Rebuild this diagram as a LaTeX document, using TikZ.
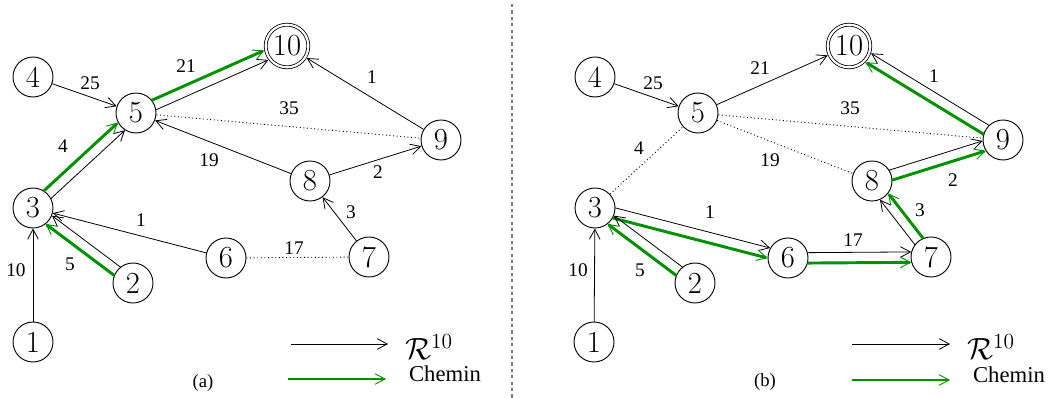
\RequirePackage{fix-cm}
\documentclass[tikz,border=0pt]{standalone}
\usepackage{fontspec}
\newfontfamily\lblfont{Liberation Serif}
\usetikzlibrary{arrows.meta,calc}
\definecolor{pathgreen}{RGB}{0,145,0}
\definecolor{divgray}{RGB}{125,125,125}
\tikzset{
  >={Straight Barb[length=7.5pt,width=8pt,line width=0.6pt]},
  vtx/.style={circle,draw,line width=0.7pt,minimum size=30pt,inner sep=0pt,
    font=\fontsize{23}{25}\selectfont},
  goal/.style={circle,draw,double,double distance=1.6pt,line width=0.6pt,
    minimum size=32pt,inner sep=0pt,outer sep=1.4pt,font=\fontsize{23}{25}\selectfont},
  blk/.style={->,line width=0.6pt},
  grn/.style={-{Straight Barb[length=7.5pt,width=8pt,line width=0.7pt]},
    draw=pathgreen,line width=2.2pt},
  dotedge/.style={line width=0.7pt,dotted,draw=black},
  lbl/.style={font=\lblfont\fontsize{14.5}{16}\selectfont,inner sep=0pt},
  chem/.style={font=\lblfont\fontsize{17}{19}\selectfont,inner sep=0pt},
  captxt/.style={font=\lblfont\fontsize{14}{16}\selectfont,inner sep=0pt},
  rten/.style={font=\fontsize{23}{26}\selectfont,inner sep=0pt},
  divider/.style={draw=divgray,line width=0.8pt,dash pattern=on 2.4pt off 2.4pt}
}
\newcommand\pairL[4]{%
  \draw[blk,shorten <=#3,shorten >=#4] ($(#1)!3.9pt!-90:(#2)$) -- ($(#2)!3.9pt!90:(#1)$);
  \draw[grn,shorten <=#3,shorten >=#4] ($(#1)!3.9pt!90:(#2)$) -- ($(#2)!3.9pt!-90:(#1)$);}
\newcommand\pairR[4]{%
  \draw[blk,shorten <=#3,shorten >=#4] ($(#1)!3.9pt!90:(#2)$) -- ($(#2)!3.9pt!-90:(#1)$);
  \draw[grn,shorten <=#3,shorten >=#4] ($(#1)!3.9pt!-90:(#2)$) -- ($(#2)!3.9pt!90:(#1)$);}
\begin{document}
\begin{tikzpicture}[x=0.75pt,y=-0.75pt]
\useasboundingbox (0,0) rectangle (1052,398);
\coordinate (divtop) at (512,4);
\coordinate (divbot) at (512,398);
\draw[divider] (divtop) -- (divbot);

% ---------------- panel (a)
\begin{scope}
\node[vtx] (a4) at (33,77) {4};
\node[vtx] (a5) at (136,113) {5};
\node[goal] (a10) at (287,46) {10};
\node[vtx] (a9) at (441,140) {9};
\node[vtx] (a8) at (310,181) {8};
\node[vtx] (a3) at (33,208) {3};
\node[vtx] (a6) at (226,258) {6};
\node[vtx] (a7) at (369,257) {7};
\node[vtx] (a2) at (133,283) {2};
\node[vtx] (a1) at (33,342) {1};

\draw[blk] (a4) -- (a5);
\pairL{a5}{a10}{14.5pt}{17pt}
\draw[blk] (a9) -- (a10);
\draw[dotedge] (a5) -- (a9);
\draw[blk] (a8) -- (a5);
\draw[blk] (a8) -- (a9);
\pairL{a3}{a5}{14.5pt}{14.8pt}
\draw[blk] (a6) -- (a3);
\pairL{a2}{a3}{14.5pt}{14.8pt}
\draw[blk] (a1) -- (a3);
\draw[dotedge] (a6) -- (a7);
\draw[blk] (a7) -- (a8);

\node[lbl] (la25) at (90,83) {25};
\node[lbl] (la21) at (186,66) {21};
\node[lbl] (la1t) at (372,77) {1};
\node[lbl] (la35) at (289,108) {35};
\node[lbl] (la4) at (63,146) {4};
\node[lbl] (la19) at (209,160) {19};
\node[lbl] (la2) at (378,172) {2};
\node[lbl] (la3) at (351,212) {3};
\node[lbl] (la1b) at (141,220) {1};
\node[lbl] (la17) at (294,248) {17};
\node[lbl] (la5) at (70,264) {5};
\node[lbl] (la10) at (16,270) {10};

\coordinate (ka1) at (291,344);
\coordinate (ka2) at (388,344);
\draw[blk] (ka1) -- (ka2);
\coordinate (ka3) at (288,379);
\coordinate (ka4) at (386,379);
\draw[grn] (ka3) -- (ka4);
\node[rten] (ra) at (429,347) {$\mathcal{R}^{10}$};
\node[chem] (ca) at (445,374) {Chemin};
\node[captxt] (capa) at (203,383) {(a)};
\end{scope}

% ---------------- panel (b)
\begin{scope}[xshift=421.5pt]
\node[vtx] (b4) at (33,77) {4};
\node[vtx] (b5) at (136,113) {5};
\node[goal] (b10) at (287,46) {10};
\node[vtx] (b9) at (441,140) {9};
\node[vtx] (b8) at (310,181) {8};
\node[vtx] (b3) at (33,208) {3};
\node[vtx] (b6) at (226,258) {6};
\node[vtx] (b7) at (369,257) {7};
\node[vtx] (b2) at (133,283) {2};
\node[vtx] (b1) at (32,342) {1};

\draw[blk] (b4) -- (b5);
\draw[blk] (b5) -- (b10);
\pairL{b9}{b10}{14.5pt}{17pt}
\draw[dotedge] (b5) -- (b9);
\draw[dotedge] (b5) -- (b8);
\pairR{b8}{b9}{14.5pt}{14.8pt}
\draw[dotedge] (b3) -- (b5);
\pairR{b3}{b6}{14.5pt}{14.8pt}
\pairL{b2}{b3}{14.5pt}{14.8pt}
\draw[blk] (b1) -- (b3);
\pairR{b6}{b7}{14.5pt}{14.8pt}
\pairR{b7}{b8}{14.5pt}{14.8pt}

\node[lbl] (lb25) at (91,83) {25};
\node[lbl] (lb21) at (198,68) {21};
\node[lbl] (lb1t) at (372,76) {1};
\node[lbl] (lb35) at (288,108) {35};
\node[lbl] (lb4) at (77,148) {4};
\node[lbl] (lb19) at (208,160) {19};
\node[lbl] (lb2) at (391,180) {2};
\node[lbl] (lb3) at (358,210) {3};
\node[lbl] (lb1b) at (148,212) {1};
\node[lbl] (lb17) at (291,240) {17};
\node[lbl] (lb5) at (78,270) {5};
\node[lbl] (lb10) at (16,270) {10};

\coordinate (kb1) at (290,344);
\coordinate (kb2) at (388,344);
\draw[blk] (kb1) -- (kb2);
\coordinate (kb3) at (290,380);
\coordinate (kb4) at (388,380);
\draw[grn] (kb3) -- (kb4);
\node[rten] (rb) at (429,347) {$\mathcal{R}^{10}$};
\node[chem] (cb) at (447,375) {Chemin};
\node[captxt] (capb) at (203,382) {(b)};
\end{scope}
\end{tikzpicture}
\end{document}
